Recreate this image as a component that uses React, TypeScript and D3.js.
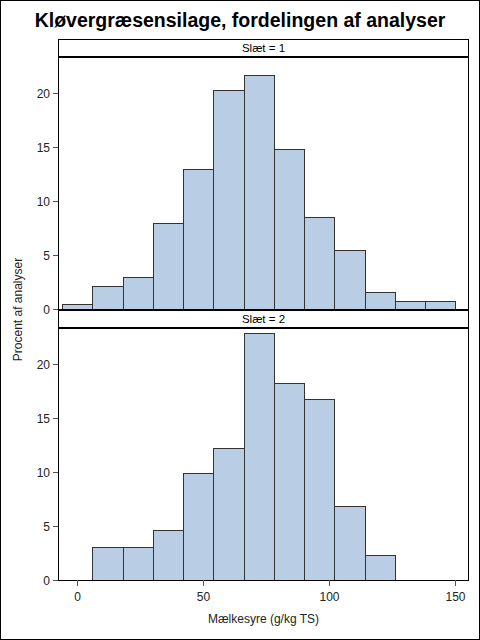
import React from "react";
import * as d3 from "d3";

// histogram bins (g/kg TS), 12 wide
const binEdges = [-6, 6, 18, 30, 42, 54, 66, 78, 90, 102, 114, 126, 138, 150];
// percent of analyses per bin
const slaet1 = [0.5, 2.1, 3.0, 8.0, 13.0, 20.3, 21.7, 14.8, 8.5, 5.5, 1.6, 0.7, 0.7];
const slaet2 = [0, 3.05, 3.05, 4.6, 9.9, 12.2, 22.9, 18.3, 16.8, 6.85, 2.3, 0, 0];
const panelLabels = ["Slæt = 1", "Slæt = 2"];
const xTicks = [0, 50, 100, 150];
const yTicks = [0, 5, 10, 15, 20];

const W = 480;
const H = 640;
const left = 58;
const right = 469;
const font = "'Liberation Sans', Arial, sans-serif";

const x = d3.scaleLinear().domain([-7.66, 155.4]).range([left, right]);

// each panel: strip top, plot top, plot bottom
const panels = [
  { top: 39, plotTop: 57, plotBottom: 309, values: slaet1 },
  { top: 310, plotTop: 328, plotBottom: 580, values: slaet2 },
];

const Panel = ({ p, label, last }: any) => {
  const y = d3.scaleLinear().domain([0, 23.35]).range([p.plotBottom, p.plotTop]);
  return (
    <g>
      {p.values.map((v: number, i: number) => {
        if (v <= 0) return null;
        const x0 = Math.round(x(binEdges[i])) + 0.5;
        const x1 = Math.round(x(binEdges[i + 1])) + 0.5;
        const y0 = Math.round(y(v)) + 0.5;
        return (
          <rect
            key={i}
            x={x0}
            y={y0}
            width={x1 - x0}
            height={y(0) - y0}
            fill="#b9cde5"
            stroke="#333"
            strokeWidth={1}
            shapeRendering="crispEdges"
          />
        );
      })}
      <rect
        x={left + 0.5}
        y={p.plotTop + 0.5}
        width={right - left - 1}
        height={p.plotBottom - p.plotTop}
        fill="none"
        stroke="#000"
        shapeRendering="crispEdges"
      />
      <rect
        x={left + 0.5}
        y={p.top + 0.5}
        width={right - left - 1}
        height={p.plotTop - p.top - 1}
        fill="#fff"
        stroke="#000"
        shapeRendering="crispEdges"
      />
      <text
        x={(left + right) / 2}
        y={p.top + 12.5}
        textAnchor="middle"
        fontSize={11.5}
        fontFamily={font}
        fill="#000"
      >
        {label}
      </text>
      {yTicks.map((t) => (
        <g key={t} transform={`translate(0,${Math.round(y(t)) + 0.5})`}>
          <line x1={left - 5} x2={left} stroke="#555" shapeRendering="crispEdges" />
          <text
            x={left - 8}
            dy="0.35em"
            textAnchor="end"
            fontSize={12}
            fontFamily={font}
            fill="#222"
          >
            {t}
          </text>
        </g>
      ))}
      {last &&
        xTicks.map((t) => (
          <g key={t} transform={`translate(${Math.round(x(t)) + 0.5},${p.plotBottom})`}>
            <line y1={0} y2={6} stroke="#555" shapeRendering="crispEdges" />
            <text
              y={21}
              textAnchor="middle"
              fontSize={12}
              fontFamily={font}
              fill="#222"
            >
              {t}
            </text>
          </g>
        ))}
    </g>
  );
};

export default function App() {
  return (
    <svg
      width={W}
      height={H}
      style={{ position: "absolute", left: 0, top: 0, background: "#fff" }}
    >
      <rect x={0} y={0} width={W} height={H} fill="#fff" />
      <text
        x={W / 2}
        y={27}
        textAnchor="middle"
        fontSize={19.5}
        fontWeight="bold"
        fontFamily={font}
        fill="#000"
      >
        Kløvergræsensilage, fordelingen af analyser
      </text>
      {panels.map((p, i) => (
        <Panel key={i} p={p} label={panelLabels[i]} last={i === panels.length - 1} />
      ))}
      <text
        x={(left + right) / 2}
        y={623}
        textAnchor="middle"
        fontSize={12}
        fontFamily={font}
        fill="#222"
      >
        Mælkesyre (g/kg TS)
      </text>
      <text
        transform={`translate(22,${(panels[0].top + panels[1].plotBottom) / 2}) rotate(-90)`}
        textAnchor="middle"
        fontSize={12}
        fontFamily={font}
        fill="#222"
      >
        Procent af analyser
      </text>
      <rect x={0.5} y={0.5} width={W - 1} height={H - 1} fill="none" stroke="#000" />
    </svg>
  );
}
